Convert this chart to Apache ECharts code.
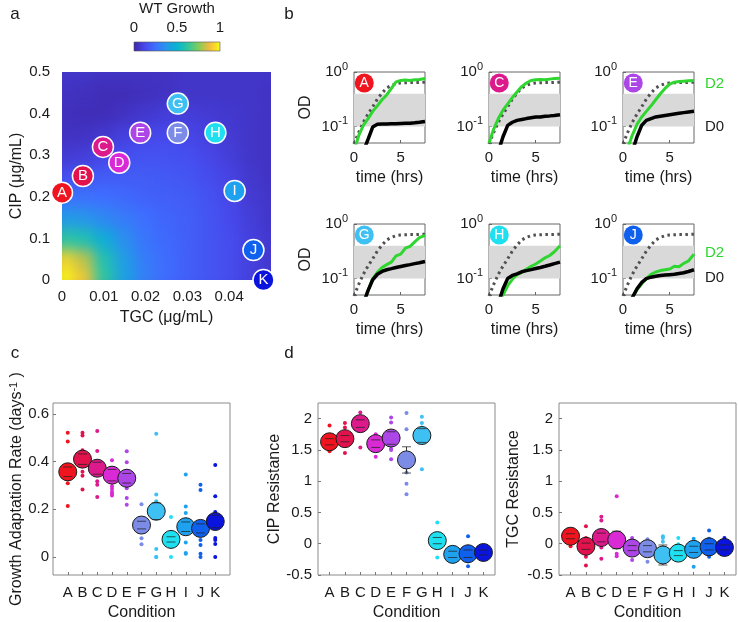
<!DOCTYPE html>
<html>
<head>
<meta charset="utf-8">
<title>WT growth and adaptation</title>
<script src="https://cdn.jsdelivr.net/npm/echarts@6/dist/echarts.min.js"></script>
<style>
body { margin: 0; background: #fff; }
#wrap { position: relative; width: 738px; height: 622px; }
#heatClip { position: absolute; left: 62px; top: 72px; width: 209px; height: 208px; overflow: hidden; background: #4036bc; }
#heat { position: absolute; left: -10.5px; top: -10.4px; width: 230px; height: 229px; filter: blur(7px); }
#main { position: absolute; left: 0; top: 0; width: 738px; height: 622px; }
</style>
</head>
<body>
<div id="wrap">
    <div id="heatClip"><div id="heat"></div></div>
    <div id="main"></div>
</div>
<script type="text/javascript">
    // conditions and their colours
    var conditions = ['A', 'B', 'C', 'D', 'E', 'F', 'G', 'H', 'I', 'J', 'K'];
    var condColors = ['#f0141e', '#e2124c', '#dc1a8c', '#d92ad6', '#ad46e6', '#7b8be6',
                      '#3ec0f2', '#1ee0f0', '#1ea2f0', '#1060ee', '#0a14dc'];

    // panel a: drug doses of each condition
    var tgcDose = [0, 0.005, 0.0098, 0.0137, 0.0187, 0.0277, 0.0277, 0.0367, 0.0413, 0.0458, 0.0482];
    var cipDose = [0.21, 0.25, 0.32, 0.282, 0.354, 0.354, 0.424, 0.354, 0.214, 0.072, 0];

    // panel a: WT growth surface (rows = CIP from 0 up to 0.5, cols = TGC from 0 to 0.05)
    var tgcGrid = ['0', '0.005', '0.01', '0.015', '0.02', '0.025', '0.03', '0.035', '0.04', '0.045', '0.05'];
    var cipGrid = ['0', '0.05', '0.1', '0.15', '0.2', '0.25', '0.3', '0.35', '0.4', '0.45', '0.5'];
    var wtGrowth = [
        [1.00, 0.90, 0.62, 0.42, 0.30, 0.24, 0.20, 0.17, 0.14, 0.10, 0.08],
        [0.93, 0.82, 0.58, 0.40, 0.29, 0.24, 0.20, 0.17, 0.14, 0.10, 0.07],
        [0.62, 0.58, 0.47, 0.35, 0.27, 0.23, 0.20, 0.17, 0.14, 0.10, 0.07],
        [0.40, 0.38, 0.33, 0.29, 0.25, 0.22, 0.20, 0.17, 0.13, 0.09, 0.06],
        [0.26, 0.26, 0.25, 0.23, 0.21, 0.20, 0.19, 0.16, 0.12, 0.08, 0.06],
        [0.15, 0.17, 0.19, 0.19, 0.19, 0.18, 0.17, 0.14, 0.11, 0.07, 0.05],
        [0.08, 0.09, 0.12, 0.15, 0.16, 0.16, 0.15, 0.12, 0.09, 0.06, 0.05],
        [0.05, 0.05, 0.07, 0.10, 0.12, 0.13, 0.12, 0.10, 0.08, 0.06, 0.05],
        [0.04, 0.03, 0.03, 0.05, 0.07, 0.09, 0.09, 0.08, 0.07, 0.06, 0.05],
        [0.05, 0.04, 0.03, 0.03, 0.04, 0.05, 0.06, 0.06, 0.06, 0.06, 0.05],
        [0.06, 0.06, 0.05, 0.05, 0.05, 0.05, 0.06, 0.06, 0.06, 0.06, 0.06]
    ];
    var parula = ['#3e26a8', '#4747eb', '#3e6fff', '#2796eb', '#08b4d0', '#31c69f', '#81cc59', '#f4ba3e', '#f9fb15'];

    // panel b: growth curves (OD) over time
    var timeHrs = [0, 0.5, 1, 1.5, 2, 2.5, 3, 3.5, 4, 4.5, 5, 5.5, 6, 6.5, 7, 7.6];
    var curveConds = ['A', 'C', 'E', 'G', 'H', 'J'];
    var odWT = [0.048, 0.078, 0.12, 0.17, 0.23, 0.32, 0.41, 0.51, 0.57, 0.61, 0.63, 0.635, 0.64, 0.64, 0.645, 0.65];
    var odD2 = [
        [0.035, 0.068, 0.105, 0.14, 0.19, 0.24, 0.31, 0.38, 0.50, 0.66, 0.70, 0.71, 0.70, 0.72, 0.73, 0.76],
        [0.05, 0.09, 0.14, 0.20, 0.26, 0.34, 0.43, 0.54, 0.63, 0.70, 0.72, 0.73, 0.72, 0.74, 0.76, 0.77],
        [0.025, 0.04, 0.07, 0.11, 0.15, 0.19, 0.24, 0.31, 0.40, 0.50, 0.60, 0.65, 0.67, 0.68, 0.69, 0.70],
        [0.02, 0.025, 0.035, 0.06, 0.10, 0.13, 0.16, 0.18, 0.20, 0.26, 0.28, 0.36, 0.39, 0.47, 0.56, 0.62],
        [0.02, 0.025, 0.03, 0.05, 0.074, 0.097, 0.118, 0.13, 0.148, 0.168, 0.185, 0.21, 0.24, 0.265, 0.31, 0.40],
        [0.02, 0.03, 0.045, 0.062, 0.08, 0.10, 0.12, 0.132, 0.14, 0.145, 0.15, 0.168, 0.165, 0.19, 0.21, 0.28]
    ];
    var odD0 = [
        [0.02, 0.025, 0.035, 0.058, 0.098, 0.11, 0.112, 0.112, 0.113, 0.113, 0.114, 0.115, 0.115, 0.117, 0.12, 0.124],
        [0.02, 0.025, 0.035, 0.065, 0.105, 0.12, 0.13, 0.135, 0.14, 0.145, 0.15, 0.15, 0.155, 0.157, 0.16, 0.165],
        [0.02, 0.025, 0.035, 0.065, 0.105, 0.13, 0.14, 0.15, 0.155, 0.16, 0.165, 0.17, 0.175, 0.18, 0.185, 0.19],
        [0.02, 0.025, 0.035, 0.06, 0.095, 0.12, 0.135, 0.145, 0.152, 0.16, 0.167, 0.174, 0.18, 0.188, 0.195, 0.205],
        [0.02, 0.025, 0.035, 0.065, 0.10, 0.114, 0.122, 0.133, 0.14, 0.146, 0.153, 0.16, 0.168, 0.177, 0.188, 0.20],
        [0.02, 0.03, 0.045, 0.065, 0.085, 0.10, 0.106, 0.11, 0.114, 0.116, 0.118, 0.12, 0.124, 0.128, 0.135, 0.145]
    ];

    // panel c: growth adaptation rate
    var adaptMean = [0.357, 0.41, 0.372, 0.343, 0.33, 0.134, 0.192, 0.074, 0.127, 0.12, 0.149];
    var adaptErr = [0.02, 0.022, 0.025, 0.024, 0.02, 0.016, 0.035, 0.011, 0.02, 0.019, 0.026];
    var adaptDots = [
        [0.52, 0.484, 0.327, 0.309, 0.214],
        [0.52, 0.509, 0.447, 0.43, 0.357, 0.34, 0.283],
        [0.528, 0.444, 0.401, 0.317, 0.303, 0.251],
        [0.405, 0.297, 0.286, 0.274, 0.265, 0.258],
        [0.443, 0.397, 0.361, 0.288, 0.247, 0.219],
        [0.221, 0.14, 0.079, 0.054],
        [0.516, 0.262, 0.234, 0.034, 0, 0],
        [0.168, 0.075, 0],
        [0.346, 0.212, 0.185, 0.157, 0.061, 0.017, 0.014],
        [0.303, 0.281, 0.1, 0.072, 0.051, 0.014, 0],
        [0.385, 0.255, 0.189, 0.08, 0.072, 0.055, 0]
    ];

    // panel d: CIP and TGC resistance
    var cipResMean = [1.63, 1.68, 1.92, 1.6, 1.69, 1.34, 1.73, 0.05, -0.17, -0.16, -0.14];
    var cipResErr = [0.05, 0.05, 0.06, 0.06, 0.1, 0.21, 0.11, 0.05, 0.05, 0.06, 0.04];
    var cipResDots = [
        [1.89, 1.62, 1.48], [1.93, 1.86, 1.68, 1.45], [2.1, 2.0, 1.95, 1.54], [1.75, 1.62, 1.39],
        [2.02, 1.94, 1.52, 1.5, 1.35], [2.09, 1.83, 1.22, 1.14, 0.96, 0.79], [2.03, 1.93, 1.86, 1.62, 1.19],
        [0.34, 0.04, -0.22], [-0.1, -0.12, -0.29], [0.12, -0.12, -0.28, -0.36], [-0.14, -0.15]
    ];
    var tgcResMean = [0.12, -0.04, 0.1, 0.06, -0.07, -0.08, -0.18, -0.15, -0.09, -0.05, -0.06];
    var tgcResErr = [0.04, 0.05, 0.07, 0.14, 0.04, 0.05, 0.16, 0.04, 0.05, 0.05, 0.04];
    var tgcResDots = [
        [0.22, 0.14, -0.04], [0.28, 0.09, -0.05, -0.21, -0.35], [0.43, 0.37, 0.1, -0.06, -0.24],
        [0.76, 0.0, -0.16, -0.2], [0.09, -0.07, -0.26], [0.07, -0.08, -0.29], [0.12, 0.09, 0.03, -0.2],
        [0.09, -0.01, -0.15], [0.08, -0.09, -0.37], [0.21, 0.08, -0.05, -0.21], [0.09, 0.04, -0.06]
    ];

    var FONT = '"Liberation Sans", Helvetica, Arial, sans-serif';
    var TXT = '#1a1a1a';
    var GREEN = '#30d630';

    // ---------- heatmap background (blurred to look smooth) ----------
    var heatChart = echarts.init(document.getElementById('heat'));
    var heatData = [];
    for (var j = 0; j < cipGrid.length; j++) {
        for (var i = 0; i < tgcGrid.length; i++) {
            heatData.push([i, j, wtGrowth[j][i]]);
        }
    }
    heatChart.setOption({
        animation: false,
        grid: { left: 0, right: 0, top: 0, bottom: 0 },
        xAxis: { type: 'category', data: tgcGrid, show: false },
        yAxis: { type: 'category', data: cipGrid, show: false },
        visualMap: { show: false, min: 0, max: 1, inRange: { color: parula } },
        series: [{ type: 'heatmap', data: heatData }]
    });

    // ---------- main chart ----------
    var chart = echarts.init(document.getElementById('main'));
    var grids = [], xAxes = [], yAxes = [], series = [];

    function txt(size) {
        return { fontSize: size, color: TXT, fontFamily: FONT };
    }

    // panel a axes + markers
    grids.push({ left: 62, top: 72, width: 209, height: 208 });
    xAxes.push({
        gridIndex: 0, type: 'value', min: 0, max: 0.05, interval: 0.01,
        name: 'TGC (μg/mL)', nameLocation: 'middle', nameGap: 30, nameTextStyle: txt(16),
        axisLine: { show: false, onZero: false }, axisTick: { show: false }, splitLine: { show: false },
        axisLabel: Object.assign(txt(15), {
            margin: 9,
            formatter: function (v) { return v > 0.045 ? '' : String(+v.toFixed(2)); }
        })
    });
    yAxes.push({
        gridIndex: 0, type: 'value', min: 0, max: 0.5, interval: 0.1,
        name: 'CIP (μg/mL)', nameLocation: 'middle', nameGap: 37, nameTextStyle: txt(16),
        axisLine: { show: false, onZero: false }, axisTick: { show: false }, splitLine: { show: false },
        axisLabel: Object.assign(txt(15), {
            margin: 12,
            formatter: function (v) { return String(+v.toFixed(1)); }
        })
    });
    series.push({
        type: 'scatter', xAxisIndex: 0, yAxisIndex: 0, clip: false, symbolSize: 21, z: 5,
        itemStyle: { borderColor: '#fff', borderWidth: 1.5, opacity: 1 },
        label: { show: true, position: 'inside', formatter: '{b}', color: '#fff', fontSize: 15, fontFamily: FONT },
        data: conditions.map(function (c, i) {
            return { name: c, value: [tgcDose[i], cipDose[i]], itemStyle: { color: condColors[i] } };
        })
    });

    // panel b: six growth-curve plots
    var colLeft = [354, 489, 623];
    var rowTop = [72, 224];
    curveConds.forEach(function (c, k) {
        var g = grids.length;
        var row = k < 3 ? 0 : 1, col = k % 3;
        grids.push({
            left: colLeft[col], top: rowTop[row], width: 71, height: 71,
            show: true, borderColor: '#666', borderWidth: 1
        });
        xAxes.push({
            gridIndex: g, type: 'value', min: 0, max: 7.6,
            name: 'time (hrs)', nameLocation: 'middle', nameGap: 27, nameTextStyle: txt(16),
            axisLine: { show: false, onZero: false }, splitLine: { show: false },
            axisTick: { inside: true, length: 3, customValues: [0, 5], lineStyle: { color: '#666' } },
            axisLabel: Object.assign(txt(15), { margin: 7, customValues: [0, 5] })
        });
        yAxes.push({
            gridIndex: g, type: 'log', logBase: 10, min: 0.05, max: 1,
            name: col === 0 ? 'OD' : '', nameLocation: 'middle', nameGap: 40, nameTextStyle: txt(16),
            axisLine: { show: false, onZero: false }, splitLine: { show: false },
            axisTick: { inside: true, length: 3, lineStyle: { color: '#666' } },
            axisLabel: Object.assign(txt(15), {
                margin: 6, lineHeight: 22,
                formatter: function (v) {
                    if (Math.abs(v - 1) < 1e-6) return '10{s|0}';
                    if (Math.abs(v - 0.1) < 1e-6) return '10{s|-1}';
                    return '';
                },
                rich: { s: { fontSize: 11, lineHeight: 12, verticalAlign: 'top', color: TXT, fontFamily: FONT } }
            })
        });
        var ci = conditions.indexOf(c);
        series.push({
            type: 'line', xAxisIndex: g, yAxisIndex: g, data: [], z: 1, silent: true,
            markArea: { silent: true, itemStyle: { color: '#d9d9d9' }, data: [[{ yAxis: 0.1 }, { yAxis: 0.4 }]] }
        });
        series.push({
            type: 'line', xAxisIndex: g, yAxisIndex: g, symbol: 'none', z: 3,
            lineStyle: { color: '#505050', width: 3, type: [2.5, 3.5] },
            data: timeHrs.map(function (t, i) { return [t, odWT[i]]; })
        });
        series.push({
            type: 'line', xAxisIndex: g, yAxisIndex: g, symbol: 'none', z: 4,
            lineStyle: { color: GREEN, width: 3 },
            data: timeHrs.map(function (t, i) { return [t, odD2[k][i]]; })
        });
        series.push({
            type: 'line', xAxisIndex: g, yAxisIndex: g, symbol: 'none', z: 5,
            lineStyle: { color: '#000', width: 3.5 },
            data: timeHrs.map(function (t, i) { return [t, odD0[k][i]]; })
        });
        series.push({
            type: 'scatter', xAxisIndex: g, yAxisIndex: g, symbolSize: 19, z: 6, clip: false,
            itemStyle: { color: condColors[ci], opacity: 1 },
            label: { show: true, position: 'inside', formatter: c, color: '#fff', fontSize: 14, fontFamily: FONT },
            data: [[1.1, 0.63]]
        });
    });

    // panels c and d: error bar stems sit under the circles, caps on top
    function renderStem(params, api) {
        var x = api.value(0), m = api.value(1), e = api.value(2);
        var hi = api.coord([x, m + e]), lo = api.coord([x, m - e]);
        return {
            type: 'line', shape: { x1: hi[0], y1: hi[1], x2: lo[0], y2: lo[1] },
            style: { stroke: 'rgba(35,35,35,0.9)', lineWidth: 1 }
        };
    }
    function renderCaps(params, api) {
        var x = api.value(0), m = api.value(1), e = api.value(2);
        var hi = api.coord([x, m + e]), lo = api.coord([x, m - e]);
        var w = 4.5;
        return {
            type: 'group', children: [
                { type: 'line', shape: { x1: hi[0] - w, y1: hi[1], x2: hi[0] + w, y2: hi[1] },
                  style: { stroke: 'rgba(35,35,35,0.75)', lineWidth: 1 } },
                { type: 'line', shape: { x1: lo[0] - w, y1: lo[1], x2: lo[0] + w, y2: lo[1] },
                  style: { stroke: 'rgba(35,35,35,0.75)', lineWidth: 1 } }
            ]
        };
    }

    var catTicks = [1, 2, 3, 4, 5, 6, 7, 8, 9, 10, 11];
    function addSummary(left, xmin, xmax, ymin, ymax, yTicks, yName, yGap, yMargin, mean, err, dots) {
        var g = grids.length;
        grids.push({ left: left, top: 403, width: 177, height: 174, show: true, borderColor: '#8a8a8a', borderWidth: 1 });
        xAxes.push({
            gridIndex: g, type: 'value', min: xmin, max: xmax,
            name: 'Condition', nameLocation: 'middle', nameGap: 30, nameTextStyle: txt(16),
            axisLine: { show: false, onZero: false }, splitLine: { show: false },
            axisTick: { inside: true, length: 3, customValues: catTicks, lineStyle: { color: '#777' } },
            axisLabel: Object.assign(txt(15), {
                margin: 10, customValues: catTicks,
                formatter: function (v) { return conditions[Math.round(v) - 1] || ''; }
            })
        });
        yAxes.push({
            gridIndex: g, type: 'value', min: ymin, max: ymax,
            name: yName, nameLocation: 'middle', nameGap: yGap,
            nameTextStyle: Object.assign(txt(16), {
                rich: { sup: { fontSize: 11, lineHeight: 10, verticalAlign: 'top', color: TXT, fontFamily: FONT } }
            }),
            axisLine: { show: false, onZero: false }, splitLine: { show: false },
            axisTick: { inside: true, length: 3, customValues: yTicks, lineStyle: { color: '#777' } },
            axisLabel: Object.assign(txt(15), { margin: yMargin, customValues: yTicks })
        });
        var dotData = [];
        dots.forEach(function (arr, i) {
            arr.forEach(function (v) {
                dotData.push({ value: [i + 1, v], itemStyle: { color: condColors[i] } });
            });
        });
        var errData = mean.map(function (m, i) { return [i + 1, m, err[i]]; });
        series.push({ type: 'scatter', xAxisIndex: g, yAxisIndex: g, symbolSize: 4, z: 2,
            itemStyle: { opacity: 1 }, data: dotData });
        series.push({ type: 'custom', xAxisIndex: g, yAxisIndex: g, z: 3, renderItem: renderStem,
            encode: { x: 0, y: 1 }, data: errData });
        series.push({
            type: 'scatter', xAxisIndex: g, yAxisIndex: g, symbolSize: 18, z: 4,
            itemStyle: { borderColor: '#1a1a1a', borderWidth: 1, opacity: 1 },
            data: mean.map(function (m, i) { return { value: [i + 1, m], itemStyle: { color: condColors[i] } }; })
        });
        series.push({ type: 'custom', xAxisIndex: g, yAxisIndex: g, z: 5, renderItem: renderCaps,
            encode: { x: 0, y: 1 }, data: errData });
    }

    addSummary(53, 0, 12, -0.075, 0.645, [0, 0.2, 0.4, 0.6],
        'Growth Adaptation Rate (days{sup|-1} )', 28, 4, adaptMean, adaptErr, adaptDots);
    addSummary(318, 0.25, 11.75, -0.5, 2.25, [-0.5, 0, 0.5, 1, 1.5, 2],
        'CIP Resistance', 35, 6, cipResMean, cipResErr, cipResDots);
    addSummary(559, 0.25, 11.75, -0.5, 2.25, [-0.5, 0, 0.5, 1, 1.5, 2],
        'TGC Resistance', 37, 6, tgcResMean, tgcResErr, tgcResDots);

    // texts, colour bar
    function label(x, y, text, size, color, align) {
        return {
            type: 'text', x: x, y: y, z: 10,
            style: {
                text: text, fill: color || TXT, font: size + 'px ' + FONT,
                align: align || 'center', textAlign: align || 'center',
                verticalAlign: 'middle', textVerticalAlign: 'middle'
            }
        };
    }
    var graphics = [
        label(15, 14, 'a', 17), label(289, 14, 'b', 17),
        label(15, 353, 'c', 17), label(289, 353, 'd', 17),
        label(177, 9, 'WT Growth', 15),
        label(134, 28, '0', 15), label(177, 28, '0.5', 15), label(220, 28, '1', 15),
        label(705, 84, 'D2', 15, GREEN, 'left'), label(705, 127, 'D0', 15, TXT, 'left'),
        label(705, 253, 'D2', 15, GREEN, 'left'), label(705, 278, 'D0', 15, TXT, 'left'),
        {
            type: 'rect', z: 10,
            shape: { x: 134, y: 42, width: 86, height: 9 },
            style: {
                stroke: '#555', lineWidth: 0.6,
                fill: new echarts.graphic.LinearGradient(0, 0, 1, 0, parula.map(function (c, i) {
                    return { offset: i / (parula.length - 1), color: c };
                }))
            }
        }
    ];

    chart.setOption({
        animation: false,
        grid: grids,
        xAxis: xAxes,
        yAxis: yAxes,
        series: series,
        graphic: graphics
    });
</script>
</body>
</html>
